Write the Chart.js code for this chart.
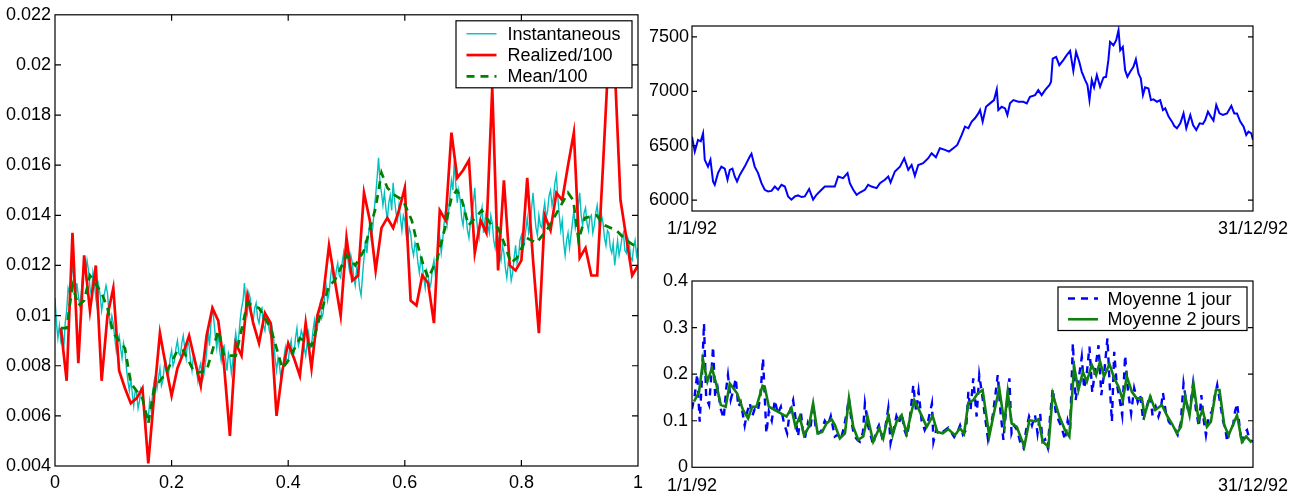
<!DOCTYPE html>
<html>
<head>
<meta charset="utf-8">
<script src="https://cdn.jsdelivr.net/npm/chart.js@4.4.1/dist/chart.umd.min.js"></script>
<style>
  html, body { margin: 0; padding: 0; background: #fff; }
  #wrap { position: relative; width: 1308px; height: 498px; overflow: hidden; background: #fff; }
  #wrap canvas { position: absolute; }
</style>
</head>
<body>
<div id="wrap">
  <canvas id="vol" width="650" height="498" style="left:0px;top:0px"></canvas>
  <canvas id="price" width="668" height="250" style="left:640px;top:0px"></canvas>
  <canvas id="means" width="668" height="248" style="left:640px;top:250px"></canvas>
</div>
<script>
// ---------- Left panel: volatility on [0,1] ----------
const instStep = 0.0025;   // spacing of the instantaneous volatility samples
const instValues = [
  0.0107, 0.0097, 0.0091, 0.0096, 0.0090, 0.0093, 0.0087, 0.0097, 0.0102, 0.0111, 0.0109, 0.0115, 0.0121, 0.0112, 0.0106, 0.0113, 0.0108, 0.0104, 0.0109, 0.0116,
  0.0121, 0.0116, 0.0122, 0.0118, 0.0111, 0.0108, 0.0117, 0.0113, 0.0107, 0.0103, 0.0112, 0.0108, 0.0102, 0.0106, 0.0109, 0.0112, 0.0109, 0.0101, 0.0096, 0.0100,
  0.0097, 0.0091, 0.0086, 0.0090, 0.0092, 0.0087, 0.0083, 0.0089, 0.0086, 0.0079, 0.0074, 0.0070, 0.0075, 0.0069, 0.0064, 0.0070, 0.0069, 0.0063, 0.0066, 0.0071,
  0.0070, 0.0062, 0.0055, 0.0061, 0.0059, 0.0066, 0.0062, 0.0069, 0.0074, 0.0076, 0.0071, 0.0075, 0.0079, 0.0072, 0.0074, 0.0080, 0.0082, 0.0078, 0.0077, 0.0083,
  0.0086, 0.0080, 0.0082, 0.0087, 0.0090, 0.0085, 0.0084, 0.0089, 0.0092, 0.0087, 0.0083, 0.0090, 0.0088, 0.0082, 0.0078, 0.0084, 0.0083, 0.0079, 0.0074, 0.0079,
  0.0081, 0.0074, 0.0076, 0.0080, 0.0085, 0.0094, 0.0088, 0.0097, 0.0104, 0.0098, 0.0092, 0.0087, 0.0093, 0.0086, 0.0082, 0.0087, 0.0088, 0.0083, 0.0078, 0.0085,
  0.0083, 0.0077, 0.0082, 0.0088, 0.0093, 0.0088, 0.0091, 0.0098, 0.0103, 0.0106, 0.0113, 0.0104, 0.0101, 0.0109, 0.0107, 0.0100, 0.0098, 0.0103, 0.0105, 0.0099,
  0.0097, 0.0102, 0.0103, 0.0096, 0.0094, 0.0100, 0.0099, 0.0094, 0.0092, 0.0095, 0.0091, 0.0083, 0.0078, 0.0083, 0.0080, 0.0075, 0.0077, 0.0083, 0.0087, 0.0081,
  0.0082, 0.0087, 0.0090, 0.0084, 0.0085, 0.0091, 0.0095, 0.0088, 0.0090, 0.0094, 0.0092, 0.0087, 0.0084, 0.0089, 0.0093, 0.0087, 0.0088, 0.0094, 0.0098, 0.0092,
  0.0095, 0.0101, 0.0105, 0.0099, 0.0101, 0.0108, 0.0112, 0.0106, 0.0109, 0.0115, 0.0120, 0.0114, 0.0113, 0.0118, 0.0121, 0.0116, 0.0115, 0.0121, 0.0125, 0.0119,
  0.0130, 0.0122, 0.0118, 0.0124, 0.0121, 0.0115, 0.0112, 0.0119, 0.0117, 0.0111, 0.0108, 0.0116, 0.0123, 0.0130, 0.0125, 0.0132, 0.0137, 0.0131, 0.0135, 0.0142,
  0.0148, 0.0155, 0.0163, 0.0153, 0.0149, 0.0144, 0.0149, 0.0143, 0.0138, 0.0145, 0.0148, 0.0142, 0.0153, 0.0146, 0.0141, 0.0138, 0.0144, 0.0139, 0.0134, 0.0140,
  0.0138, 0.0132, 0.0129, 0.0135, 0.0133, 0.0127, 0.0124, 0.0129, 0.0127, 0.0121, 0.0117, 0.0123, 0.0120, 0.0115, 0.0111, 0.0118, 0.0116, 0.0111, 0.0113, 0.0119,
  0.0122, 0.0116, 0.0120, 0.0126, 0.0131, 0.0125, 0.0130, 0.0137, 0.0142, 0.0136, 0.0141, 0.0148, 0.0154, 0.0150, 0.0162, 0.0152, 0.0145, 0.0150, 0.0146, 0.0139,
  0.0136, 0.0143, 0.0140, 0.0134, 0.0131, 0.0137, 0.0141, 0.0145, 0.0151, 0.0140, 0.0134, 0.0131, 0.0139, 0.0143, 0.0133, 0.0138, 0.0142, 0.0136, 0.0133, 0.0140,
  0.0137, 0.0130, 0.0127, 0.0134, 0.0131, 0.0125, 0.0122, 0.0128, 0.0125, 0.0119, 0.0115, 0.0121, 0.0120, 0.0114, 0.0117, 0.0123, 0.0128, 0.0121, 0.0123, 0.0130,
  0.0132, 0.0126, 0.0129, 0.0134, 0.0139, 0.0133, 0.0136, 0.0143, 0.0149, 0.0141, 0.0135, 0.0132, 0.0140, 0.0136, 0.0135, 0.0141, 0.0145, 0.0139, 0.0142, 0.0148,
  0.0150, 0.0144, 0.0147, 0.0153, 0.0156, 0.0147, 0.0140, 0.0134, 0.0138, 0.0129, 0.0124, 0.0130, 0.0133, 0.0127, 0.0132, 0.0137, 0.0142, 0.0135, 0.0138, 0.0144,
  0.0149, 0.0140, 0.0136, 0.0141, 0.0143, 0.0137, 0.0134, 0.0139, 0.0140, 0.0133, 0.0136, 0.0141, 0.0144, 0.0138, 0.0134, 0.0140, 0.0137, 0.0131, 0.0128, 0.0134,
  0.0133, 0.0127, 0.0125, 0.0129, 0.0120, 0.0125, 0.0130, 0.0124, 0.0127, 0.0131, 0.0133, 0.0126, 0.0125, 0.0131, 0.0129, 0.0123, 0.0122, 0.0127, 0.0130, 0.0124,
  0.0127
];
// realized volatility / 100, one value per 0.01 step starting at 0.01
const realizedValues = [
  0.0095, 0.0074, 0.0133, 0.0081, 0.0124, 0.0102, 0.0120, 0.0074, 0.0100, 0.0111,
  0.0078, 0.0071, 0.0065, 0.0067, 0.0071, 0.0041, 0.0068, 0.0093, 0.0080, 0.0068,
  0.0079, 0.0085, 0.0092, 0.0082, 0.0072, 0.0092, 0.0103, 0.0098, 0.0080, 0.0052,
  0.0089, 0.0084, 0.0108, 0.0097, 0.0089, 0.0101, 0.0097, 0.0060, 0.0078, 0.0089,
  0.0083, 0.0076, 0.0097, 0.0079, 0.0100, 0.0108, 0.0128, 0.0114, 0.0100, 0.0131,
  0.0114, 0.0116, 0.0149, 0.0138, 0.0118, 0.0135, 0.0139, 0.0135, 0.0142, 0.0151,
  0.0106, 0.0104, 0.0116, 0.0113, 0.0097, 0.0142, 0.0138, 0.0173, 0.0155, 0.0158,
  0.0162, 0.0125, 0.0138, 0.0133, 0.0191, 0.0118, 0.0154, 0.0120, 0.0118, 0.0122,
  0.0155, 0.0122, 0.0093, 0.0140, 0.0134, 0.0149, 0.0146, 0.0160, 0.0173, 0.0123,
  0.0127, 0.0116, 0.0116, 0.0160, 0.0206, 0.0200, 0.0146, 0.0131, 0.0116, 0.0120
];
const meanX = [
  0.01, 0.02, 0.03, 0.04, 0.05, 0.06, 0.08, 0.09, 0.10, 0.12,
  0.13, 0.15, 0.16, 0.17, 0.19, 0.21, 0.22, 0.24, 0.26, 0.28,
  0.29, 0.31, 0.33, 0.35, 0.37, 0.39, 0.40, 0.42, 0.44, 0.455,
  0.47, 0.48, 0.50, 0.515, 0.53, 0.55, 0.56, 0.57, 0.583, 0.597,
  0.612, 0.62, 0.632, 0.64, 0.655, 0.669, 0.68, 0.689, 0.697, 0.709,
  0.717, 0.732, 0.749, 0.76, 0.772, 0.782, 0.792, 0.809, 0.826, 0.846,
  0.863, 0.88, 0.889, 0.898, 0.909, 0.929, 0.943, 0.963, 0.98, 1.0
];
const meanValues = [
  0.0095, 0.0095, 0.0112, 0.0104, 0.0106, 0.0116, 0.0109, 0.0103, 0.0093, 0.0087,
  0.0073, 0.0067, 0.0057, 0.0071, 0.0077, 0.0086, 0.0086, 0.0077, 0.0078, 0.0094,
  0.0084, 0.0084, 0.0105, 0.0103, 0.0095, 0.0079, 0.0082, 0.0091, 0.0088, 0.0100,
  0.0112, 0.0114, 0.0124, 0.0120, 0.0126, 0.0143, 0.0157, 0.0151, 0.0148, 0.0146,
  0.0138, 0.0130, 0.0120, 0.0115, 0.0122, 0.0135, 0.0147, 0.0150, 0.0147, 0.0136,
  0.0138, 0.0142, 0.0136, 0.0135, 0.0128, 0.0121, 0.0123, 0.0131, 0.0129, 0.0135,
  0.0142, 0.0149, 0.0146, 0.0130, 0.0139, 0.0140, 0.0136, 0.0134, 0.0130, 0.0127
];
const volTicksX = [0, 0.2, 0.4, 0.6, 0.8, 1];
const volLabelsX = ['0', '0.2', '0.4', '0.6', '0.8', '1'];
const volTicksY = [0.004, 0.006, 0.008, 0.01, 0.012, 0.014, 0.016, 0.018, 0.02, 0.022];
const volLabelsY = ['0.004', '0.006', '0.008', '0.01', '0.012', '0.014', '0.016', '0.018', '0.02', '0.022'];

// ---------- Top right: index level over 1992 (x = day of year) ----------
const priceDays = [
  0, 1.8, 3.9, 5.7, 7.2, 8.3, 10.4, 12.0, 13.7, 14.8,
  16.9, 19.1, 21.3, 23.1, 24.6, 26.3, 27.8, 29.3, 31.1, 34.3,
  37.6, 38.7, 40.8, 43.0, 45.2, 47.3, 49.5, 51.7, 53.9, 56.0,
  58.2, 60.4, 62.5, 64.7, 66.9, 69.0, 71.3, 73.4, 76.2, 78.8,
  81.0, 83.6, 86.4, 89.7, 92.9, 95.1, 98.3, 101.2, 102.7, 104.9,
  107.1, 109.2, 112.5, 114.6, 116.8, 120.1, 122.3, 125.5, 127.7, 129.2,
  132.0, 135.3, 138.1, 140.7, 142.9, 145.0, 147.2, 150.4, 153.7, 155.9,
  158.7, 161.3, 164.6, 167.2, 170.0, 172.6, 175.5, 177.6, 179.8, 182.0,
  184.1, 186.3, 187.4, 189.1, 191.3, 193.9, 196.5, 198.3, 199.3, 201.5,
  203.7, 205.2, 206.9, 209.1, 212.3, 215.6, 217.8, 219.9, 223.2, 225.3,
  227.5, 229.7, 232.5, 233.6, 234.7, 236.9, 239.0, 241.6, 243.8, 246.0,
  248.1, 249.9, 252.0, 253.6, 255.8, 257.3, 258.6, 260.1, 261.6, 263.4,
  265.5, 267.7, 269.4, 270.9, 272.0, 274.2, 276.0, 277.5, 278.6, 280.3,
  281.8, 283.3, 285.1, 287.2, 288.8, 290.5, 292.0, 293.4, 294.8, 297.0,
  298.6, 300.3, 302.5, 304.6, 306.4, 307.9, 310.1, 312.3, 313.8, 315.5,
  317.7, 319.8, 321.6, 324.2, 326.0, 328.1, 330.3, 332.4, 333.9, 335.7,
  337.6, 339.3, 341.1, 343.2, 345.4, 348.1, 350.9, 352.8, 354.6, 356.7,
  358.9, 360.6, 362.1, 363.9, 365
];
const priceValues = [
  6583, 6446, 6553, 6540, 6614, 6370, 6308, 6370, 6171, 6141,
  6248, 6308, 6290, 6187, 6278, 6290, 6217, 6171, 6232, 6308,
  6400, 6425, 6308, 6248, 6156, 6095, 6080, 6085, 6125, 6095,
  6141, 6125, 6034, 6004, 6034, 6043, 6028, 6034, 6102, 6004,
  6049, 6086, 6125, 6125, 6125, 6217, 6202, 6248, 6156, 6095,
  6049, 6070, 6095, 6141, 6125, 6110, 6156, 6187, 6217, 6162,
  6263, 6308, 6385, 6278, 6323, 6223, 6323, 6339, 6385, 6431,
  6394, 6477, 6462, 6446, 6477, 6507, 6599, 6675, 6660, 6721,
  6752, 6797, 6828, 6721, 6858, 6889, 6919, 7017, 6828, 6858,
  6843, 6782, 6889, 6919, 6904, 6904, 6889, 6950, 6965, 7011,
  6965, 7011, 7057, 7087, 7301, 7316, 7240, 7286, 7332, 7371,
  7188, 7362, 7270, 7179, 7103, 7057, 6919, 7103, 7036, 7149,
  7042, 7127, 7133, 7286, 7453, 7423, 7469, 7561, 7377, 7408,
  7194, 7133, 7179, 7225, 7294, 7164, 7118, 6965, 7036, 7026,
  6919, 6926, 6904, 6919, 6828, 6843, 6767, 6721, 6681, 6660,
  6706, 6797, 6660, 6782, 6690, 6645, 6706, 6700, 6736, 6813,
  6767, 6730, 6874, 6797, 6782, 6797, 6867, 6797, 6797, 6721,
  6675, 6599, 6629, 6614, 6553
];
const priceTicksY = [6000, 6500, 7000, 7500];
const priceLabelsY = ['6000', '6500', '7000', '7500'];
const dateTicks = [0, 365];
const dateLabels = ['1/1/92', '31/12/92'];

// ---------- Bottom right: daily and two-day averages ----------
const oneDayDays = [
  0, 1.8, 3.4, 5.0, 6.3, 7.8, 9.2, 11.1, 12.2, 13.7,
  15.1, 16.7, 18.7, 20.6, 22.3, 23.4, 25.2, 26.8, 28.5, 30.1,
  31.7, 34.3, 36.0, 37.6, 39.2, 40.8, 42.8, 44.4, 46.2, 48.4,
  50.0, 51.9, 53.9, 55.8, 57.8, 59.8, 61.9, 63.6, 65.8, 67.6,
  69.0, 70.8, 72.1, 73.4, 75.4, 77.0, 78.8, 80.6, 82.5, 84.5,
  86.4, 88.4, 90.3, 92.9, 94.9, 96.8, 98.8, 100.8, 102.1, 103.7,
  105.3, 107.3, 109.2, 111.2, 112.5, 114.5, 116.1, 117.9, 119.6, 121.6,
  123.6, 125.5, 127.7, 129.2, 131.1, 133.0, 134.7, 136.4, 138.2, 139.9,
  141.9, 144.0, 145.8, 147.4, 149.4, 151.4, 153.3, 156.1, 157.1, 158.9,
  160.8, 162.8, 164.8, 166.7, 168.7, 170.6, 172.6, 174.4, 176.3, 178.3,
  179.8, 181.2, 183.0, 185.2, 186.9, 188.6, 190.6, 192.6, 194.2, 195.7,
  197.2, 198.9, 200.7, 202.6, 204.3, 206.5, 207.9, 209.6, 211.5, 213.5,
  215.6, 217.4, 219.3, 221.2, 223.2, 224.8, 226.5, 228.1, 229.7, 231.5,
  233.0, 234.7, 236.6, 238.5, 240.5, 242.7, 244.4, 246.0, 247.8, 249.6,
  251.6, 253.6, 255.1, 256.8, 258.6, 260.4, 262.3, 264.5, 266.3, 268.1,
  270.3, 271.7, 273.2, 274.7, 276.3, 278.0, 279.9, 281.8, 283.8, 285.7,
  287.7, 290.0, 291.6, 293.6, 295.8, 298.1, 299.7, 301.7, 303.5, 305.0,
  306.4, 308.2, 310.2, 312.1, 314.1, 316.0, 318.0, 319.8, 321.6, 323.5,
  326.0, 327.8, 329.8, 331.4, 333.0, 334.4, 336.3, 338.3, 339.9, 341.7,
  343.5, 345.5, 347.1, 348.2, 350.0, 352.0, 353.3, 354.7, 356.5, 357.8,
  359.5, 361.1, 362.8, 365
];
const oneDayValues = [
  0.125, 0.155, 0.200, 0.098, 0.180, 0.309, 0.150, 0.134, 0.180, 0.259,
  0.150, 0.170, 0.125, 0.105, 0.170, 0.198, 0.145, 0.165, 0.191, 0.130,
  0.140, 0.090, 0.120, 0.138, 0.110, 0.125, 0.120, 0.150, 0.234, 0.073,
  0.120, 0.100, 0.144, 0.115, 0.130, 0.095, 0.073, 0.120, 0.144, 0.100,
  0.066, 0.120, 0.080, 0.062, 0.095, 0.080, 0.137, 0.080, 0.073, 0.080,
  0.100, 0.090, 0.110, 0.066, 0.070, 0.060, 0.085, 0.120, 0.148, 0.100,
  0.070, 0.060, 0.055, 0.075, 0.137, 0.090, 0.070, 0.048, 0.075, 0.090,
  0.065, 0.080, 0.127, 0.052, 0.080, 0.110, 0.095, 0.116, 0.080, 0.065,
  0.110, 0.177, 0.120, 0.163, 0.100, 0.080, 0.095, 0.137, 0.055, 0.080,
  0.070, 0.075, 0.080, 0.085, 0.075, 0.065, 0.075, 0.090, 0.070, 0.080,
  0.162, 0.123, 0.191, 0.109, 0.198, 0.160, 0.110, 0.060, 0.085, 0.112,
  0.150, 0.198, 0.120, 0.059, 0.120, 0.191, 0.073, 0.090, 0.080, 0.055,
  0.042, 0.080, 0.109, 0.090, 0.112, 0.073, 0.116, 0.055, 0.060, 0.042,
  0.110, 0.169, 0.120, 0.101, 0.085, 0.059, 0.100, 0.080, 0.266, 0.144,
  0.190, 0.237, 0.169, 0.200, 0.259, 0.160, 0.210, 0.262, 0.155, 0.200,
  0.277, 0.180, 0.098, 0.248, 0.180, 0.150, 0.112, 0.240, 0.160, 0.116,
  0.170, 0.140, 0.155, 0.100, 0.130, 0.155, 0.110, 0.130, 0.109, 0.125,
  0.160, 0.120, 0.098, 0.090, 0.083, 0.070, 0.095, 0.180, 0.140, 0.112,
  0.180, 0.125, 0.087, 0.155, 0.100, 0.069, 0.110, 0.120, 0.150, 0.177,
  0.140, 0.100, 0.080, 0.055, 0.080, 0.090, 0.120, 0.137, 0.080, 0.050,
  0.075, 0.080, 0.059, 0.055
];
const twoDayDays = [
  1.3, 4.6, 7.2, 10.0, 13.0, 15.9, 18.7, 21.9, 24.6, 29.3,
  33.2, 36.5, 39.1, 41.9, 45.9, 47.3, 50.0, 53.9, 57.8, 61.5,
  64.7, 67.3, 70.1, 72.9, 76.0, 78.8, 81.7, 84.7, 87.5, 90.8,
  92.9, 96.2, 99.5, 102.1, 104.9, 108.1, 111.4, 114.2, 117.9, 121.8,
  124.4, 127.7, 130.5, 133.1, 136.4, 139.6, 144.6, 148.3, 152.7, 156.6,
  159.6, 163.1, 166.7, 171.1, 174.4, 177.0, 179.8, 183.0, 185.7, 189.1,
  193.4, 196.0, 199.9, 203.2, 205.4, 208.0, 211.3, 216.2, 219.5, 223.2,
  225.4, 228.2, 231.9, 234.7, 239.0, 242.7, 245.5, 248.6, 251.4, 254.3,
  256.9, 260.1, 262.9, 265.5, 268.1, 271.6, 274.7, 277.5, 280.3, 282.9,
  286.2, 289.4, 292.7, 294.4, 298.1, 301.4, 305.7, 309.4, 312.2, 315.5,
  318.1, 320.9, 323.7, 326.3, 329.6, 332.2, 335.0, 337.6, 340.9, 343.2,
  346.3, 349.1, 354.6, 357.8, 360.6, 364.1
];
const twoDayValues = [
  0.141, 0.162, 0.230, 0.184, 0.213, 0.177, 0.134, 0.130, 0.180, 0.159,
  0.123, 0.105, 0.130, 0.130, 0.175, 0.173, 0.130, 0.123, 0.116, 0.109,
  0.127, 0.087, 0.109, 0.069, 0.087, 0.137, 0.073, 0.076, 0.094, 0.103,
  0.091, 0.062, 0.073, 0.148, 0.087, 0.059, 0.066, 0.109, 0.055, 0.084,
  0.062, 0.112, 0.069, 0.098, 0.112, 0.073, 0.144, 0.119, 0.087, 0.110,
  0.076, 0.073, 0.082, 0.069, 0.084, 0.072, 0.139, 0.144, 0.158, 0.166,
  0.067, 0.109, 0.170, 0.094, 0.162, 0.094, 0.087, 0.044, 0.101, 0.099,
  0.103, 0.055, 0.044, 0.157, 0.109, 0.080, 0.066, 0.217, 0.166, 0.205,
  0.184, 0.220, 0.198, 0.227, 0.195, 0.222, 0.191, 0.173, 0.144, 0.195,
  0.162, 0.148, 0.148, 0.112, 0.152, 0.123, 0.134, 0.109, 0.094, 0.073,
  0.087, 0.152, 0.112, 0.179, 0.101, 0.123, 0.087, 0.098, 0.166, 0.166,
  0.091, 0.069, 0.112, 0.055, 0.066, 0.053
];
const avgTicksY = [0, 0.1, 0.2, 0.3, 0.4];
const avgLabelsY = ['0', '0.1', '0.2', '0.3', '0.4'];

// ---------- shared styling ----------
const FONT = '"Liberation Sans", Arial, Helvetica, sans-serif';
const FS = 18;
const INK = '#000000';
Chart.defaults.font.family = FONT;
Chart.defaults.font.size = FS;
Chart.defaults.color = INK;

const pts = (xs, ys) => xs.map((x, i) => ({ x, y: ys[i] }));

// linear axis whose ticks come from a fixed list, with a fixed thickness
function axis(min, max, ticks, labels, thickness, vertical, pad) {
  return {
    type: 'linear',
    min, max,
    grid: { display: false, drawTicks: false },
    border: { display: false },
    ticks: {
      autoSkip: false, maxRotation: 0, minRotation: 0, padding: pad,
      font: { family: FONT, size: FS }, color: INK,
      callback: (v, i) => labels[i]
    },
    afterBuildTicks: s => { s.ticks = ticks.map(v => ({ value: v })); },
    afterFit: s => { if (vertical) s.width = thickness; else s.height = thickness; }
  };
}

// box around the plot area with inward tick marks on all four sides
const framePlugin = {
  id: 'frame',
  afterDatasetsDraw(chart, args, opts) {
    const { ctx, chartArea: a, scales } = chart;
    const L = opts.tick || 6;
    ctx.save();
    ctx.strokeStyle = '#000';
    ctx.lineWidth = 1.2;
    ctx.beginPath();
    scales.x.ticks.forEach(t => {
      const p = scales.x.getPixelForValue(t.value);
      if (p <= a.left + 1 || p >= a.right - 1) return;
      ctx.moveTo(p, a.bottom); ctx.lineTo(p, a.bottom - L);
      ctx.moveTo(p, a.top); ctx.lineTo(p, a.top + L);
    });
    scales.y.ticks.forEach(t => {
      const p = scales.y.getPixelForValue(t.value);
      if (p <= a.top + 1 || p >= a.bottom - 1) return;
      ctx.moveTo(a.left, p); ctx.lineTo(a.left + L, p);
      ctx.moveTo(a.right, p); ctx.lineTo(a.right - L, p);
    });
    ctx.stroke();
    ctx.strokeRect(a.left, a.top, a.right - a.left, a.bottom - a.top);
    ctx.restore();
  }
};

// boxed legend in the upper right corner of the plot area
const boxLegendPlugin = {
  id: 'boxLegend',
  afterDraw(chart, args, o) {
    const { ctx, chartArea: a } = chart;
    const ds = chart.data.datasets;
    const x0 = a.right - o.inset - o.width;
    const y0 = a.top + o.inset;
    ctx.save();
    ctx.fillStyle = '#fff';
    ctx.fillRect(x0, y0, o.width, o.height);
    ctx.strokeStyle = '#000';
    ctx.lineWidth = 1.2;
    ctx.strokeRect(x0, y0, o.width, o.height);
    ctx.font = FS + 'px ' + FONT;
    ctx.textBaseline = 'middle';
    ctx.textAlign = 'left';
    ds.forEach((d, i) => {
      const y = y0 + o.padV + o.rowH * (i + 0.5);
      ctx.strokeStyle = d.borderColor;
      ctx.lineWidth = d.borderWidth;
      ctx.setLineDash(d.borderDash || []);
      ctx.beginPath();
      ctx.moveTo(x0 + o.padL, y);
      ctx.lineTo(x0 + o.padL + o.sample, y);
      ctx.stroke();
      ctx.setLineDash([]);
      ctx.fillStyle = INK;
      ctx.fillText(d.label, x0 + o.padL + o.sample + o.gap, y + 1);
    });
    ctx.restore();
  }
};

const common = {
  responsive: false,
  animation: false,
  devicePixelRatio: 1,
  elements: { point: { radius: 0, hitRadius: 0 }, line: { tension: 0, fill: false, borderCapStyle: 'butt' } },
  events: []
};

new Chart(document.getElementById('vol'), {
  type: 'line',
  data: {
    datasets: [
      { label: 'Instantaneous', data: instValues.map((v, i) => ({ x: i * instStep, y: v })),
        borderColor: '#00c0c0', borderWidth: 1.4, order: 2 },
      { label: 'Realized/100', data: realizedValues.map((v, i) => ({ x: (i + 1) / 100, y: v })),
        borderColor: '#ff0000', borderWidth: 2.7, order: 1 },
      { label: 'Mean/100', data: pts(meanX, meanValues),
        borderColor: '#008000', borderWidth: 2.7, borderDash: [8, 6], order: 0 }
    ]
  },
  options: Object.assign({}, common, {
    layout: { padding: { top: 7, right: 12, left: 0, bottom: 0 } },
    plugins: {
      legend: { display: false }, tooltip: { enabled: false },
      frame: { tick: 6 },
      boxLegend: { inset: 6, width: 176, height: 67, padV: 2.3, rowH: 21.3, padL: 10.5, sample: 30, gap: 11 }
    },
    scales: {
      x: axis(0, 1, volTicksX, volLabelsX, 32, false, 6),
      y: axis(0.004, 0.022, volTicksY, volLabelsY, 55, true, 4)
    }
  }),
  plugins: [framePlugin, boxLegendPlugin]
});

new Chart(document.getElementById('price'), {
  type: 'line',
  data: {
    datasets: [
      { label: 'Indice', data: pts(priceDays, priceValues), borderColor: '#0000ff', borderWidth: 2 }
    ]
  },
  options: Object.assign({}, common, {
    layout: { padding: { top: 26, right: 55, left: 0, bottom: 0 } },
    plugins: { legend: { display: false }, tooltip: { enabled: false }, frame: { tick: 5 } },
    scales: {
      x: axis(0, 365, dateTicks, dateLabels, 39, false, 7),
      y: axis(5900, 7600, priceTicksY, priceLabelsY, 52, true, 3)
    }
  }),
  plugins: [framePlugin]
});

new Chart(document.getElementById('means'), {
  type: 'line',
  data: {
    datasets: [
      { label: 'Moyenne 1 jour', data: pts(oneDayDays, oneDayValues),
        borderColor: '#0000ff', borderWidth: 2.4, borderDash: [7, 6], order: 1 },
      { label: 'Moyenne 2 jours', data: pts(twoDayDays, twoDayValues),
        borderColor: '#108010', borderWidth: 2.6, order: 0 }
    ]
  },
  options: Object.assign({}, common, {
    layout: { padding: { top: 31, right: 55, left: 0, bottom: 0 } },
    plugins: {
      legend: { display: false }, tooltip: { enabled: false },
      frame: { tick: 5 },
      boxLegend: { inset: 6, width: 189, height: 43.5, padV: 1.2, rowH: 20.7, padL: 10, sample: 30, gap: 9.5 }
    },
    scales: {
      x: axis(0, 365, dateTicks, dateLabels, 30.7, false, 8),
      y: axis(0, 0.4, avgTicksY, avgLabelsY, 52, true, 4)
    }
  }),
  plugins: [framePlugin, boxLegendPlugin]
});
</script>
</body>
</html>
